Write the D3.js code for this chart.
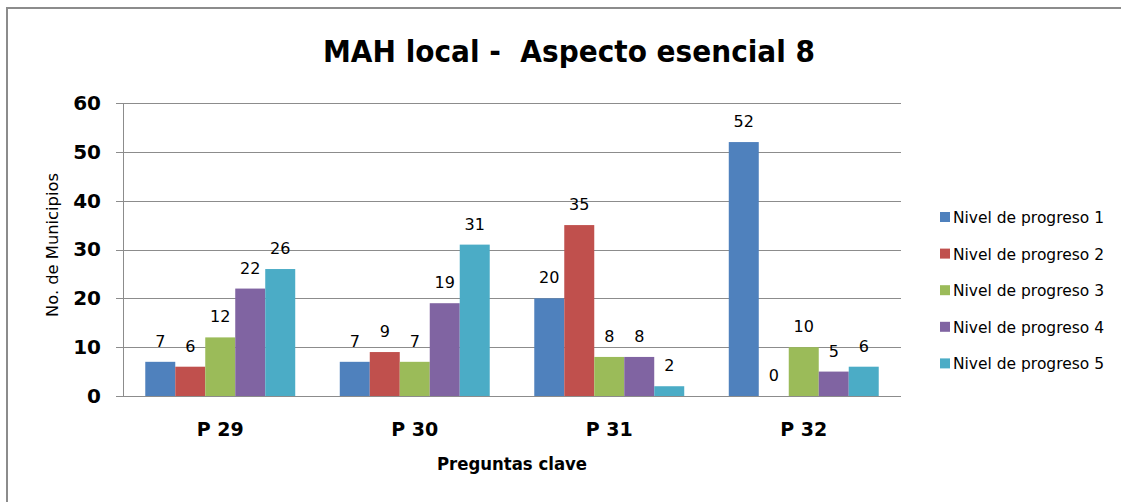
<!DOCTYPE html>
<html>
<head>
<meta charset="utf-8">
<script src="https://cdn.jsdelivr.net/npm/d3@7"></script>
<style>
  html, body { margin: 0; padding: 0; background: #fff; }
  svg { display: block; }
  text { font-family: "DejaVu Sans", sans-serif; fill: #000; }
  .title { white-space: pre; }
</style>
</head>
<body>
<svg id="chart" width="1121" height="502"></svg>
<script>
// Preguntas clave (categories) and progress levels (series)
const categories = ["P 29", "P 30", "P 31", "P 32"];
const seriesNames = ["Nivel de progreso 1", "Nivel de progreso 2", "Nivel de progreso 3", "Nivel de progreso 4", "Nivel de progreso 5"];
const nivel1 = [7, 7, 20, 52];
const nivel2 = [6, 9, 35, 0];
const nivel3 = [12, 7, 8, 10];
const nivel4 = [22, 19, 8, 5];
const nivel5 = [26, 31, 2, 6];
const yTicks = [0, 10, 20, 30, 40, 50, 60];
const colors = ["#4F81BD", "#C0504D", "#9BBB59", "#8064A2", "#4BACC6"];

const seriesValues = [nivel1, nivel2, nivel3, nivel4, nivel5];
const rows = categories.map((c, i) => ({
  cat: c,
  vals: seriesNames.map((s, j) => ({ series: s, idx: j, value: seriesValues[j][i] }))
}));

const svg = d3.select("#chart");

// outer chart frame (top and left edges)
svg.append("line").attr("x1", 6).attr("x2", 1121).attr("y1", 8).attr("y2", 8)
  .attr("stroke", "#8c8c8c").attr("stroke-width", 2);
svg.append("line").attr("x1", 7).attr("x2", 7).attr("y1", 8).attr("y2", 502)
  .attr("stroke", "#8c8c8c").attr("stroke-width", 2);

const plot = { left: 123, right: 901, top: 103, bottom: 396 };

const y = d3.scaleLinear().domain([0, 60]).range([plot.bottom, plot.top]);
const x0 = d3.scaleBand().domain(categories).range([plot.left, plot.right])
  .paddingInner(0.229).paddingOuter(0.1145);
const x1 = d3.scaleBand().domain(seriesNames).range([0, x0.bandwidth()]).padding(0);

// horizontal gridlines with outward tick stubs
const yAxis = d3.axisLeft(y).tickValues(yTicks)
  .tickSize(-(plot.right - plot.left)).tickSizeOuter(0).tickPadding(22);
const gy = svg.append("g").attr("transform", `translate(${plot.left},0)`).call(yAxis);
gy.select(".domain").remove();
gy.selectAll(".tick line").attr("stroke", "#8c8c8c").attr("stroke-width", 1)
  .attr("x1", -7).attr("shape-rendering", "crispEdges");
gy.selectAll(".tick text").attr("font-family", "DejaVu Sans, sans-serif")
  .attr("font-size", 20).attr("font-weight", "bold").attr("fill", "#111");

// vertical axis line
svg.append("line").attr("x1", plot.left).attr("x2", plot.left)
  .attr("y1", plot.top).attr("y2", plot.bottom)
  .attr("stroke", "#8c8c8c").attr("stroke-width", 1).attr("shape-rendering", "crispEdges");

// bars
const groups = svg.append("g").selectAll("g").data(rows).join("g")
  .attr("transform", d => `translate(${x0(d.cat)},0)`);
groups.selectAll("rect").data(d => d.vals).join("rect")
  .attr("x", d => x1(d.series))
  .attr("y", d => y(d.value))
  .attr("width", x1.bandwidth())
  .attr("height", d => y(0) - y(d.value))
  .attr("fill", d => colors[d.idx]);

// value labels
groups.selectAll("text.val").data(d => d.vals).join("text")
  .attr("class", "val")
  .attr("x", d => x1(d.series) + x1.bandwidth() / 2)
  .attr("y", d => y(d.value) - 15)
  .attr("text-anchor", "middle")
  .attr("font-size", 16)
  .attr("fill", "#222")
  .text(d => d.value);

// redraw baseline over the bars
svg.append("line").attr("x1", plot.left - 7).attr("x2", plot.right)
  .attr("y1", plot.bottom + 0.5).attr("y2", plot.bottom + 0.5)
  .attr("stroke", "#8c8c8c").attr("stroke-width", 1);

// category axis labels
const xAxis = d3.axisBottom(x0).tickSize(0).tickPadding(0);
const gx = svg.append("g").attr("transform", `translate(0,${plot.bottom})`).call(xAxis);
gx.select(".domain").remove();
gx.selectAll(".tick text").attr("font-family", "DejaVu Sans, sans-serif")
  .attr("font-size", 19).attr("font-weight", "bold").attr("fill", "#111")
  .attr("dy", 0).attr("y", 40);

// title
svg.append("text").attr("class", "title").attr("x", 569).attr("y", 62).attr("text-anchor", "middle")
  .attr("font-size", 30).attr("font-weight", "bold")
  .attr("textLength", 492).attr("lengthAdjust", "spacingAndGlyphs")
  .text("MAH local -  Aspecto esencial 8");

// axis titles
svg.append("text").attr("x", (plot.left + plot.right) / 2).attr("y", 470)
  .attr("text-anchor", "middle").attr("font-size", 17).attr("font-weight", "bold")
  .attr("textLength", 150).attr("lengthAdjust", "spacingAndGlyphs")
  .text("Preguntas clave");
svg.append("text").attr("transform", "translate(58,245) rotate(-90)")
  .attr("text-anchor", "middle").attr("font-size", 15).attr("fill", "#222")
  .attr("textLength", 144).attr("lengthAdjust", "spacingAndGlyphs")
  .text("No. de Municipios");

// legend
const legend = svg.append("g").selectAll("g").data(seriesNames).join("g")
  .attr("transform", (d, i) => `translate(940,${217 + i * 36.6})`);
legend.append("rect").attr("x", 0).attr("y", -5).attr("width", 10).attr("height", 10)
  .attr("fill", (d, i) => colors[i]);
legend.append("text").attr("x", 13).attr("y", 6).attr("font-size", 15).attr("fill", "#222")
  .attr("textLength", 151).attr("lengthAdjust", "spacingAndGlyphs")
  .text(d => d);
</script>
</body>
</html>
